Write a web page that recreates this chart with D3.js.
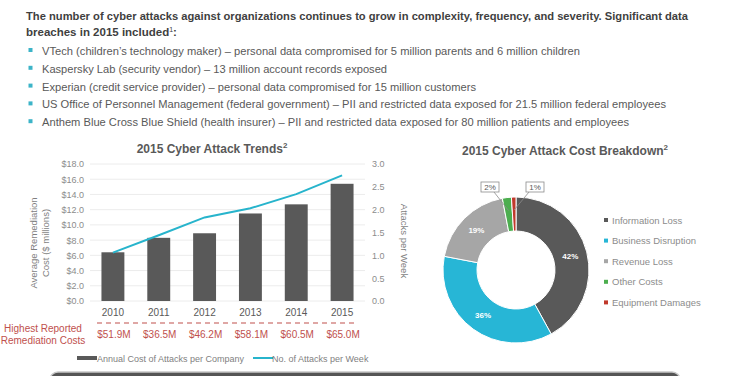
<!DOCTYPE html>
<html>
<head>
<meta charset="utf-8">
<script src="https://cdn.jsdelivr.net/npm/d3@7"></script>
<style>
  body { margin: 0; background: #fff; }
  svg { font-family: "Liberation Sans", Arial, sans-serif; display: block; }
</style>
</head>
<body>
<div id="canva"></div>
<script>
// data
const years = ["2010", "2011", "2012", "2013", "2014", "2015"];
const annualCost = [6.4, 8.3, 8.9, 11.5, 12.7, 15.4];
const attacksPerWeek = [1.06, 1.44, 1.83, 2.03, 2.34, 2.75];
const highestCosts = ["$51.9M", "$36.5M", "$46.2M", "$58.1M", "$60.5M", "$65.0M"];
const costTicks = [0, 2, 4, 6, 8, 10, 12, 14, 16, 18];
const attackTicks = [0, 0.5, 1, 1.5, 2, 2.5, 3];

const breakdownLabels = ["Information Loss", "Business Disruption", "Revenue Loss", "Other Costs", "Equipment Damages"];
const breakdownValues = [42, 36, 19, 2, 1];
const breakdownColors = ["#595959", "#27b6d6", "#a6a6a6", "#4cae4f", "#c0392b"];

const headline1 = "The number of cyber attacks against organizations continues to grow in complexity, frequency, and severity. Significant data";
const headline2 = "breaches in 2015 included";
const bullets = [
  "VTech (children\u2019s technology maker) \u2013 personal data compromised for 5 million parents and 6 million children",
  "Kaspersky Lab (security vendor) \u2013 13 million account records exposed",
  "Experian (credit service provider) \u2013 personal data compromised for 15 million customers",
  "US Office of Personnel Management (federal government) \u2013 PII and restricted data exposed for 21.5 million federal employees",
  "Anthem Blue Cross Blue Shield (health insurer) \u2013 PII and restricted data exposed for 80 million patients and employees"
];
// layout: rendered width of each bullet line
const bulletWidths = [538, 345, 434, 624, 587];

const width = 740, height = 376;
const svg = d3.select("#canva").append("svg")
  .attr("width", width).attr("height", height);

const red = "#c0504d";
const teal = "#27b4cc";

// ---- header text ----
svg.append("text")
  .attr("x", 26).attr("y", 20)
  .attr("font-size", 11.5).attr("font-weight", "bold").attr("fill", "#3f3f3f")
  .attr("textLength", 662).attr("lengthAdjust", "spacingAndGlyphs")
  .text(headline1);

const h2 = svg.append("text")
  .attr("x", 26).attr("y", 36)
  .attr("font-size", 11.5).attr("font-weight", "bold").attr("fill", "#3f3f3f");
h2.append("tspan").text(headline2);
h2.append("tspan").attr("font-size", 7).attr("dy", -4).attr("font-weight", "normal").text("1");
h2.append("tspan").attr("dy", 4).text(":");

const bl = svg.append("g").selectAll("g").data(bullets).enter().append("g")
  .attr("transform", (d, i) => `translate(0, ${55 + i * 17.8})`);
bl.append("rect")
  .attr("x", 28.5).attr("y", -7).attr("width", 4).attr("height", 4)
  .attr("fill", "#3cb4c8");
bl.append("text")
  .attr("x", 42).attr("y", 0)
  .attr("font-size", 11).attr("fill", "#595959")
  .attr("textLength", (d, i) => bulletWidths[i]).attr("lengthAdjust", "spacingAndGlyphs")
  .text(d => d);

// ---- bar + line chart ----
const x = d3.scaleBand().domain(years).range([90, 365])
  .paddingInner(0.5).paddingOuter(0.25);
const yL = d3.scaleLinear().domain([0, 18]).range([301, 164]);
const yR = d3.scaleLinear().domain([0, 3]).range([301, 164]);

const title1 = svg.append("text")
  .attr("x", 212).attr("y", 153).attr("text-anchor", "middle")
  .attr("font-size", 12).attr("font-weight", "bold").attr("fill", "#595959");
title1.append("tspan").text("2015 Cyber Attack Trends");
title1.append("tspan").attr("font-size", 8).attr("dy", -5).text("2");

// gridlines
svg.append("g").selectAll("line").data(costTicks).enter().append("line")
  .attr("x1", 90).attr("x2", 365)
  .attr("y1", d => yL(d)).attr("y2", d => yL(d))
  .attr("stroke", "#ececec").attr("stroke-width", 1);

const axL = svg.append("g").attr("transform", "translate(90,0)")
  .call(d3.axisLeft(yL).tickValues(costTicks).tickSize(0).tickPadding(6)
    .tickFormat(d => "$" + d.toFixed(1)));
axL.select(".domain").remove();
axL.selectAll("text").attr("font-size", 9).attr("fill", "#8c8c8c")
  .attr("font-family", "Liberation Sans, Arial, sans-serif");

const axR = svg.append("g").attr("transform", "translate(365,0)")
  .call(d3.axisRight(yR).tickValues(attackTicks).tickSize(0).tickPadding(7)
    .tickFormat(d => d.toFixed(1)));
axR.select(".domain").remove();
axR.selectAll("text").attr("font-size", 9).attr("fill", "#8c8c8c")
  .attr("font-family", "Liberation Sans, Arial, sans-serif");

// axis titles
const lt = svg.append("text")
  .attr("transform", "translate(37,243) rotate(-90)")
  .attr("text-anchor", "middle").attr("font-size", 9.5).attr("fill", "#7f7f7f");
lt.append("tspan").attr("x", 0).attr("dy", 0).text("Average Remediation");
lt.append("tspan").attr("x", 0).attr("dy", 12).text("Cost ($ millions)");

svg.append("text")
  .attr("transform", "translate(401,241) rotate(90)")
  .attr("text-anchor", "middle").attr("font-size", 9.5).attr("fill", "#7f7f7f")
  .text("Attacks per Week");

// bars
svg.append("g").selectAll("rect").data(annualCost).enter().append("rect")
  .attr("x", (d, i) => x(years[i]))
  .attr("y", d => yL(d))
  .attr("width", x.bandwidth())
  .attr("height", d => yL(0) - yL(d))
  .attr("fill", "#595959");

// line
const line = d3.line()
  .x((d, i) => x(years[i]) + x.bandwidth() / 2)
  .y(d => yR(d));
svg.append("path").datum(attacksPerWeek)
  .attr("d", line).attr("fill", "none")
  .attr("stroke", teal).attr("stroke-width", 2);

// x axis labels
const axB = svg.append("g").attr("transform", "translate(0,301)")
  .call(d3.axisBottom(x).tickSize(0).tickPadding(8));
axB.select(".domain").remove();
axB.selectAll("text").attr("font-size", 10).attr("fill", "#595959")
  .attr("font-family", "Liberation Sans, Arial, sans-serif");

// highest reported remediation costs
svg.append("line")
  .attr("x1", 97).attr("x2", 358).attr("y1", 323).attr("y2", 323)
  .attr("stroke", red).attr("stroke-width", 1.2).attr("stroke-dasharray", "5,4");
svg.append("g").selectAll("text").data(highestCosts).enter().append("text")
  .attr("x", (d, i) => x(years[i]) + x.bandwidth() / 2 + 1)
  .attr("y", 338).attr("text-anchor", "middle")
  .attr("font-size", 10).attr("fill", red)
  .text(d => d);
const hr = svg.append("text").attr("text-anchor", "middle")
  .attr("font-size", 10).attr("fill", red);
hr.append("tspan").attr("x", 43).attr("y", 332).text("Highest Reported");
hr.append("tspan").attr("x", 43).attr("y", 344).text("Remediation Costs");

// legend
svg.append("rect").attr("x", 77).attr("y", 356).attr("width", 20).attr("height", 4)
  .attr("fill", "#595959");
svg.append("text").attr("x", 97).attr("y", 361.5)
  .attr("font-size", 9).attr("fill", "#7f7f7f")
  .text("Annual Cost of Attacks per Company");
svg.append("line").attr("x1", 253).attr("x2", 273).attr("y1", 358).attr("y2", 358)
  .attr("stroke", teal).attr("stroke-width", 2);
svg.append("text").attr("x", 272).attr("y", 361.5)
  .attr("font-size", 9).attr("fill", "#7f7f7f")
  .text("No. of Attacks per Week");

// ---- donut ----
const cx = 516, cy = 270, rOuter = 73, rInner = 39;
const title2 = svg.append("text")
  .attr("x", 565).attr("y", 155).attr("text-anchor", "middle")
  .attr("font-size", 12).attr("font-weight", "bold").attr("fill", "#595959");
title2.append("tspan").text("2015 Cyber Attack Cost Breakdown");
title2.append("tspan").attr("font-size", 8).attr("dy", -5).text("2");

const pie = d3.pie().sort(null).value(d => d);
const arcs = pie(breakdownValues);
const arc = d3.arc().innerRadius(rInner).outerRadius(rOuter);
const g = svg.append("g").attr("transform", `translate(${cx},${cy})`);
g.selectAll("path").data(arcs).enter().append("path")
  .attr("d", arc)
  .attr("fill", (d, i) => breakdownColors[i])
  .attr("stroke", "#fff").attr("stroke-width", 1);

// inside labels for the large slices
g.selectAll("text.pct").data(arcs.filter(d => d.value >= 5)).enter().append("text")
  .attr("class", "pct")
  .attr("transform", d => `translate(${arc.centroid(d)})`)
  .attr("dy", "0.35em").attr("text-anchor", "middle")
  .attr("font-size", 8).attr("font-weight", "bold").attr("fill", "#fff")
  .text(d => d.value + "%");

// callouts for the small slices
const leader = d3.arc().innerRadius(60).outerRadius(60);
const small = arcs.filter(d => d.value < 5);
const boxOffsets = { 2: -26, 1: 19 }; // horizontal box centre relative to donut centre
small.forEach(d => {
  const bx = boxOffsets[d.value];
  const [px, py] = leader.centroid(d);
  g.append("line")
    .attr("x1", bx + (d.value === 2 ? 4 : -6)).attr("y1", -78)
    .attr("x2", px).attr("y2", py)
    .attr("stroke", "#8c8c8c").attr("stroke-width", 0.8);
  g.append("rect")
    .attr("x", bx - 9).attr("y", -88).attr("width", 18).attr("height", 10)
    .attr("fill", "#fff").attr("stroke", "#8c8c8c").attr("stroke-width", 0.8);
  g.append("text")
    .attr("x", bx).attr("y", -80).attr("text-anchor", "middle")
    .attr("font-size", 8).attr("fill", "#595959")
    .text(d.value + "%");
});

// donut legend
const lg = svg.append("g").selectAll("g").data(breakdownLabels).enter().append("g")
  .attr("transform", (d, i) => `translate(604, ${220 + i * 20.6})`);
lg.append("rect").attr("x", 0).attr("y", -2).attr("width", 4).attr("height", 4)
  .attr("fill", (d, i) => breakdownColors[i]);
lg.append("text").attr("x", 8).attr("y", 3.5)
  .attr("font-size", 9.5).attr("fill", "#8c8c8c")
  .text(d => d);

// bottom banner
svg.append("rect")
  .attr("x", 50).attr("y", 372).attr("width", 630).attr("height", 24).attr("rx", 8)
  .attr("fill", "#555").attr("stroke", "#c8c8c8").attr("stroke-width", 1.5);
</script>
</body>
</html>
